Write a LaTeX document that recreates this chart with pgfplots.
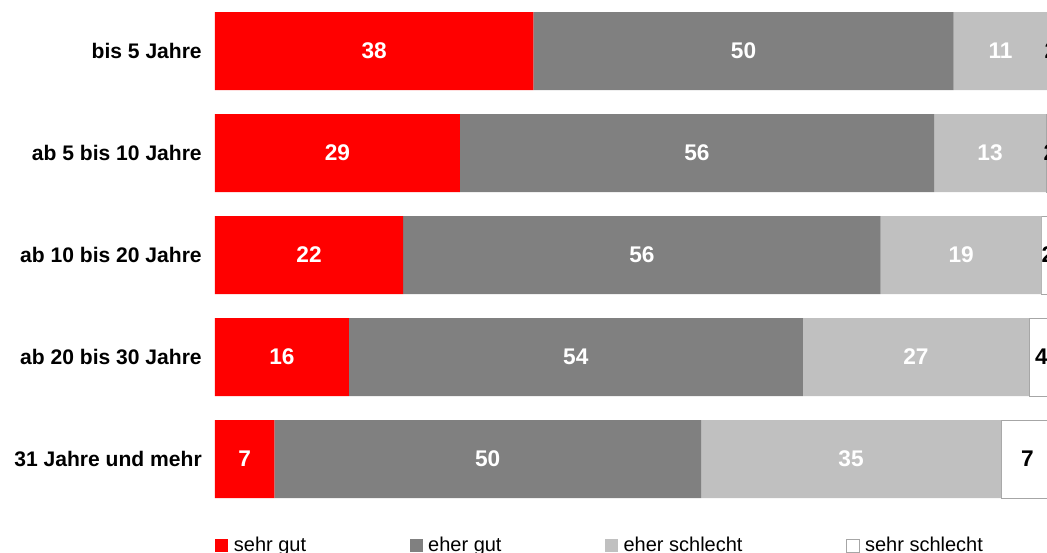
\documentclass[border=0pt]{standalone}
\usepackage{pgfplots}
\usepackage{pgfplotstable}
\pgfplotsset{compat=1.18}
\usepackage{fontspec}
\setmainfont{Liberation Sans}

\definecolor{cRed}{HTML}{FF0000}
\definecolor{cDark}{HTML}{808080}
\definecolor{cLight}{HTML}{C0C0C0}
\definecolor{cEdge}{HTML}{A6A6A6}

% values in percent, one row per age group (1 = top)
\pgfplotstableread{
row sg   eg   es   ss
1   37.6 49.6 11.1 1.7
2   28.9 56.0 13.2 1.9
3   22.2 56.4 19.0 2.4
4   15.8 53.6 26.7 3.9
5   7.0  50.4 35.4 7.2
}\data
% middle of each segment, for the labels
\pgfplotstablecreatecol[expr={\thisrow{sg}/2}]{msg}\data
\pgfplotstablecreatecol[expr={\thisrow{sg}+\thisrow{eg}/2}]{meg}\data
\pgfplotstablecreatecol[expr={\thisrow{sg}+\thisrow{eg}+\thisrow{es}/2}]{mes}\data
\pgfplotstablecreatecol[expr={\thisrow{sg}+\thisrow{eg}+\thisrow{es}+\thisrow{ss}/2}]{mss}\data

\pgfplotsset{
  frame/.style={
    at={(161.25pt,-382.5pt)}, anchor=south west,
    scale only axis,
    width=635.25pt, height=382.5pt,
    xmin=0, xmax=100,
    ymin=0.5, ymax=5.5, y dir=reverse,
  },
  lab/.style={
    draw=none, mark=none,
    point meta=explicit,
    nodes near coords,
    nodes near coords style={anchor=center,
      font=\bfseries\fontsize{17}{19}\selectfont, text=#1},
  },
}

\begin{document}
\begin{tikzpicture}
\useasboundingbox (0,0) rectangle (785.25pt,-414.75pt);
\clip (0,0) rectangle (785.25pt,-414.75pt);
\begin{axis}[
  frame,
  xbar stacked, bar width=58.5pt,
  axis x line=none,
  axis y line*=left,
  y axis line style={draw=none},
  ytick={1,2,3,4,5}, ytick style={draw=none},
  yticklabels={bis 5 Jahre, ab 5 bis 10 Jahre, ab 10 bis 20 Jahre,
               ab 20 bis 30 Jahre, 31 Jahre und mehr},
  yticklabel style={font=\bfseries\fontsize{15.8}{18}\selectfont,
                    inner sep=0pt, xshift=-9.75pt},
  legend columns=4,
  legend style={at={(0,0)}, anchor=west, yshift=-26.5pt, draw=none,
    fill=none, inner xsep=0pt, inner ysep=0pt,
    font=\fontsize{15}{16}\selectfont,
    /tikz/every even column/.append style={column sep=75.5pt},
    /tikz/every odd column/.append style={column sep=2.25pt}},
  legend image code/.code={\fill[#1] (0pt,-4.9pt) rectangle (9.75pt,4.9pt);},
]
\addplot[fill=cRed, draw=none] table[x=sg, y=row] \data;
\addlegendentry{sehr gut}
\addplot[fill=cDark, draw=none] table[x=eg, y=row] \data;
\addlegendentry{eher gut}
\addplot[fill=cLight, draw=none] table[x=es, y=row] \data;
\addlegendentry{eher schlecht}
\addplot[fill=white, draw=cEdge] table[x=ss, y=row] \data;
\addlegendentry{sehr schlecht}
\node[font=\fontsize{4}{4}\selectfont, text=black!80] at (axis cs:38.8,2.68) {7};
\end{axis}
% labels, set in the middle of each segment
\begin{axis}[
  frame, hide axis,
  /pgf/number format/fixed, /pgf/number format/precision=0,
  /pgf/number format/assume math mode=true,
]
\addplot[lab=white] table[x=msg, y=row, meta=sg] \data;
\addplot[lab=white] table[x=meg, y=row, meta=eg] \data;
\addplot[lab=white] table[x=mes, y=row, meta=es] \data;
\addplot[lab=black, nodes near coords style={xshift=-3pt}] table[x=mss, y=row, meta=ss] \data;
\end{axis}
\end{tikzpicture}
\end{document}
